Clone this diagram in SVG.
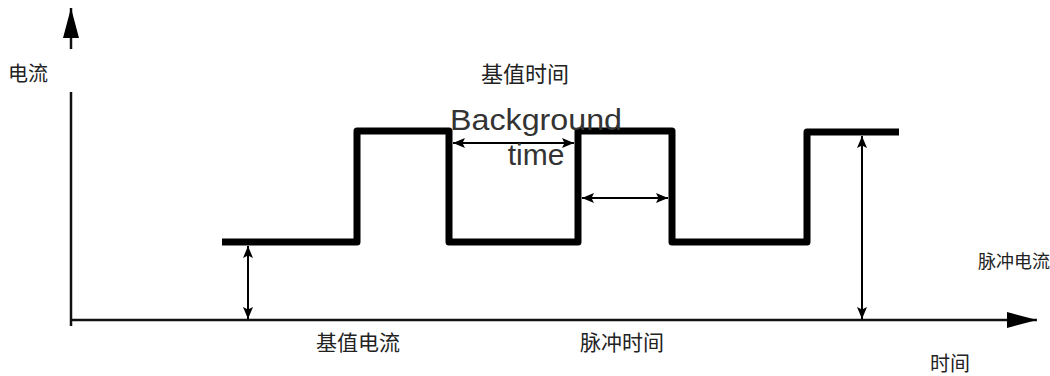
<svg xmlns="http://www.w3.org/2000/svg" width="1050" height="376" viewBox="0 0 1050 376">
<style>
.cjk{font-family:"Noto Sans CJK SC","Noto Sans",sans-serif;font-size:20px;fill:#222}
.en{font-family:"Liberation Sans",Arial,sans-serif;font-size:30px;fill:#333}
.axis{stroke:#111;stroke-width:2.5;fill:none}
.wave{stroke:#000;stroke-width:7;fill:none;stroke-linejoin:round}
.dim{stroke:#000;stroke-width:2;fill:none;marker-start:url(#ah);marker-end:url(#ah)}
</style>
<defs>
<marker id="ah" viewBox="0 0 12 10" markerUnits="userSpaceOnUse" markerWidth="12" markerHeight="10" refX="12" refY="5" orient="auto-start-reverse">
<path d="M0,0 L12,5 L0,10 L2.5,5 z" fill="#000"/>
</marker>
<marker id="axh" viewBox="0 0 30 16" markerUnits="userSpaceOnUse" markerWidth="30" markerHeight="16" refX="30" refY="8" orient="auto">
<path d="M0,0 L30,8 L0,16 z" fill="#000"/>
</marker>
</defs>
<rect width="1050" height="376" fill="#fff"/>
<g id="axes">
<line class="axis" x1="71" y1="49" x2="71" y2="8" marker-end="url(#axh)"/>
<line class="axis" x1="71" y1="92" x2="71" y2="326" stroke="#555"/>
<line class="axis" x1="70" y1="320" x2="1037" y2="320" marker-end="url(#axh)"/>
</g>
<g id="waveform">
<polyline class="wave" points="222,242 357,242 357,131 449,131 449,242 578,242 578,131 672,131 672,242 807,242 807,132 899,132"/>
</g>
<g id="connectors">
<line class="dim" x1="248" y1="246" x2="248" y2="319"/>
<line class="dim" x1="453" y1="143" x2="574" y2="143"/>
<line class="dim" x1="582" y1="198" x2="668" y2="198"/>
<line class="dim" x1="862" y1="136" x2="862" y2="319"/>
</g>
<g id="labels">
<text class="cjk" x="8" y="81">电流</text>
<text class="cjk" x="481" y="82" style="font-size:22px">基值时间</text>
<text class="en" x="536" y="130" text-anchor="middle" textLength="172" lengthAdjust="spacingAndGlyphs">Background</text>
<text class="en" x="536" y="165" text-anchor="middle">time</text>
<text class="cjk" x="316" y="350" style="font-size:21px">基值电流</text>
<text class="cjk" x="580" y="350" style="font-size:21px">脉冲时间</text>
<text class="cjk" x="978" y="268" style="font-size:18px">脉冲电流</text>
<text class="cjk" x="930" y="371">时间</text>
</g>
</svg>
